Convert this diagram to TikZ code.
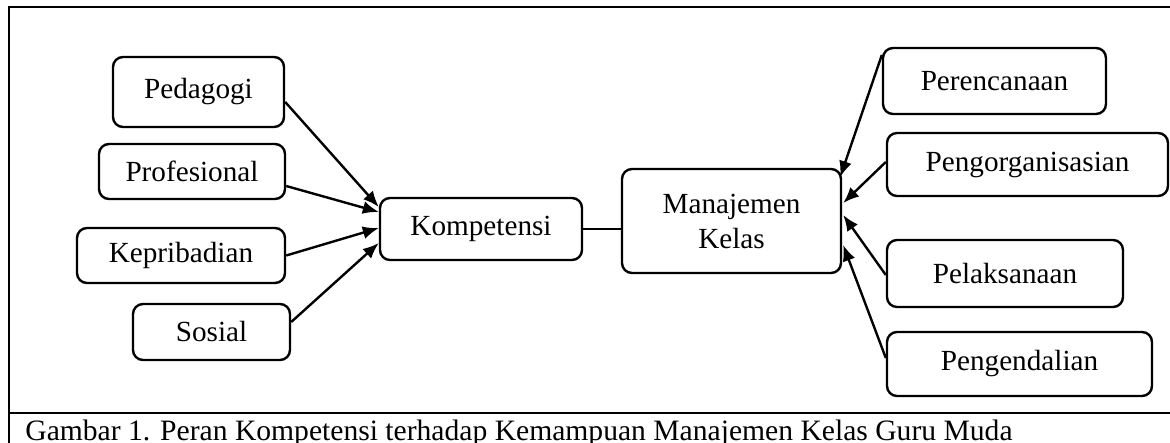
\documentclass[tikz,border=0pt]{standalone}
\usepackage{fontspec}
\setmainfont{Liberation Serif}
\usetikzlibrary{calc,arrows.meta}
\begin{document}
\begin{tikzpicture}[x=0.5pt,y=-0.5pt,
  box/.style={draw,line width=1.2pt,rounded corners=5pt,font=\fontsize{14.6}{17.5}\selectfont,inner sep=0pt,align=center},
  arr/.style={line width=1.2pt,-{Latex[length=8pt,width=6.5pt]}},
  frame/.style={line width=1.2pt}]
\useasboundingbox (0,0) rectangle (1170,443);
\coordinate (fbl) at (9,443);
\coordinate (ftl) at (9,7);
\coordinate (ftr) at (1170,7);
\coordinate (fdl) at (9,413);
\coordinate (fdr) at (1170,413);
\draw[frame] (fbl) -- (ftl) -- (ftr);
\draw[frame] (fdl) -- (fdr);
% left boxes
\node[box,minimum width=85.5pt,minimum height=35pt] (ped) at (198.5,92) {Pedagogi};
\node[box,minimum width=93pt,minimum height=27.5pt] (pro) at (192,171.5) {Profesional};
\node[box,minimum width=104pt,minimum height=27.5pt] (kep) at (181,255.5) {Kepribadian};
\node[box,minimum width=78.5pt,minimum height=28pt] (sos) at (211.5,332) {Sosial};
% centre
\node[box,minimum width=101pt,minimum height=31pt] (kom) at (481,229) {Kompetensi};
\node[box,minimum width=109.5pt,minimum height=52pt] (man) at (731.5,221) {Manajemen\\Kelas};
% right boxes
\node[box,minimum width=111.5pt,minimum height=33pt] (per) at (994.5,81) {Perencanaan};
\node[box,minimum width=140.5pt,minimum height=31.5pt] (org) at (1027.5,164.5) {Pengorganisasian};
\node[box,minimum width=118pt,minimum height=33.5pt] (pel) at (1005,273.5) {Pelaksanaan};
\node[box,minimum width=132.5pt,minimum height=32pt] (pen) at (1019.5,364) {Pengendalian};
% connectors
\draw[arr] ($(ped.east)+(0,10)$) -- ($(kom.west)+(0,-22)$);
\draw[arr] ($(pro.east)+(0,14.5)$) -- ($(kom.west)+(0,-17)$);
\draw[arr] ($(kep.east)+(0,0)$) -- ($(kom.west)+(0,-1)$);
\draw[arr] ($(sos.east)+(0,-10)$) -- ($(kom.west)+(0,14)$);
\draw[line width=1.2pt] (kom.east) -- (man.west |- kom.east);
\draw[arr] ($(per.west)+(0,-26)$) -- ($(man.east)+(-2,-44)$);
\draw[arr] ($(org.west)+(0,-2.5)$) -- ($(man.east)+(1,-18)$);
\draw[arr] ($(pel.west)+(0,1.5)$) -- ($(man.east)+(1,-6)$);
\draw[arr] ($(pen.west)+(0,-6)$) -- ($(man.east)+(1,24)$);
% caption
\node[anchor=base west,inner sep=0pt,font=\fontsize{14.8}{17}\selectfont] (cap) at (25,440) {Gambar 1. Peran Kompetensi terhadap Kemampuan Manajemen Kelas Guru Muda};
\end{tikzpicture}
\end{document}
